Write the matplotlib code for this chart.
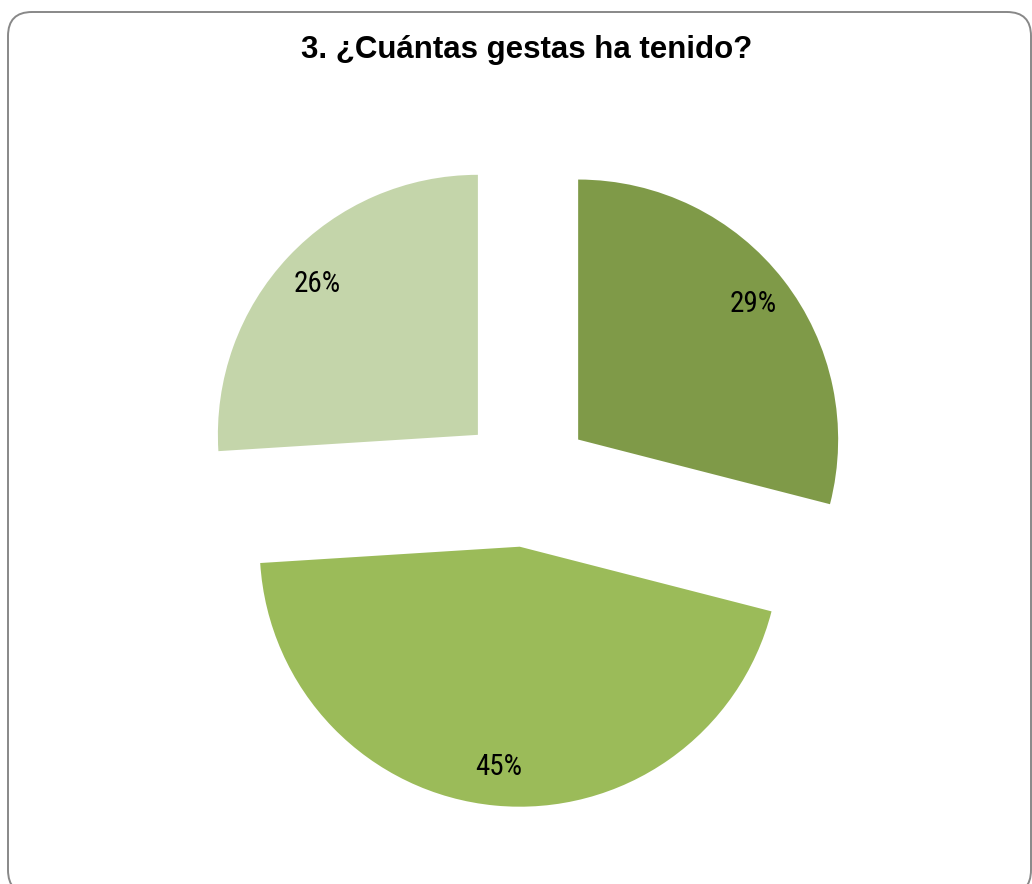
import matplotlib.pyplot as plt
from matplotlib.patches import FancyBboxPatch
from matplotlib import font_manager

# survey answers, clockwise from 12 o'clock
shares = [29, 45, 26]
labels = ['29%', '45%', '26%']
colors = ['#7F9A48', '#9BBB59', '#C4D5AA']
title = '3. ¿Cuántas gestas ha tenido?'

W, H = 1032, 884
fig = plt.figure(figsize=(W / 100, H / 100), dpi=100)
ax = fig.add_axes([0, 0, 1, 1])

names = {f.name for f in font_manager.fontManager.ttflist}
pct_font = 'DejaVu Sans'
for cand in ['Liberation Sans Narrow', 'Roboto Condensed', 'Open Sans Condensed', 'Roboto']:
    if cand in names:
        pct_font = cand
        break

# chart area border with rounded corners, in pixel units
frame = FancyBboxPatch((8 + 24, -10 + 24), 1023 - 48, 872 + 10 - 48,
                       boxstyle='round,pad=24', facecolor='white',
                       edgecolor='#888888', linewidth=1.4)
ax.add_patch(frame)

wedges, texts = ax.pie(shares, labels=labels, colors=colors, startangle=90,
                       counterclock=False, radius=260, center=(526, H - 480),
                       explode=[66, 67, 66], labeldistance=0.85, frame=True,
                       textprops=dict(fontsize=21, family=pct_font, color='black',
                                      ha='center', va='center'))
for t in texts:
    t.set_ha('center')

ax.text(527, H - 50, title, ha='center', va='center', fontsize=22.5,
        fontweight='bold', family='Liberation Sans')

ax.set_xlim(0, W)
ax.set_ylim(0, H)
ax.set_aspect('equal')
ax.axis('off')

fig.savefig('out.png', dpi=100)
